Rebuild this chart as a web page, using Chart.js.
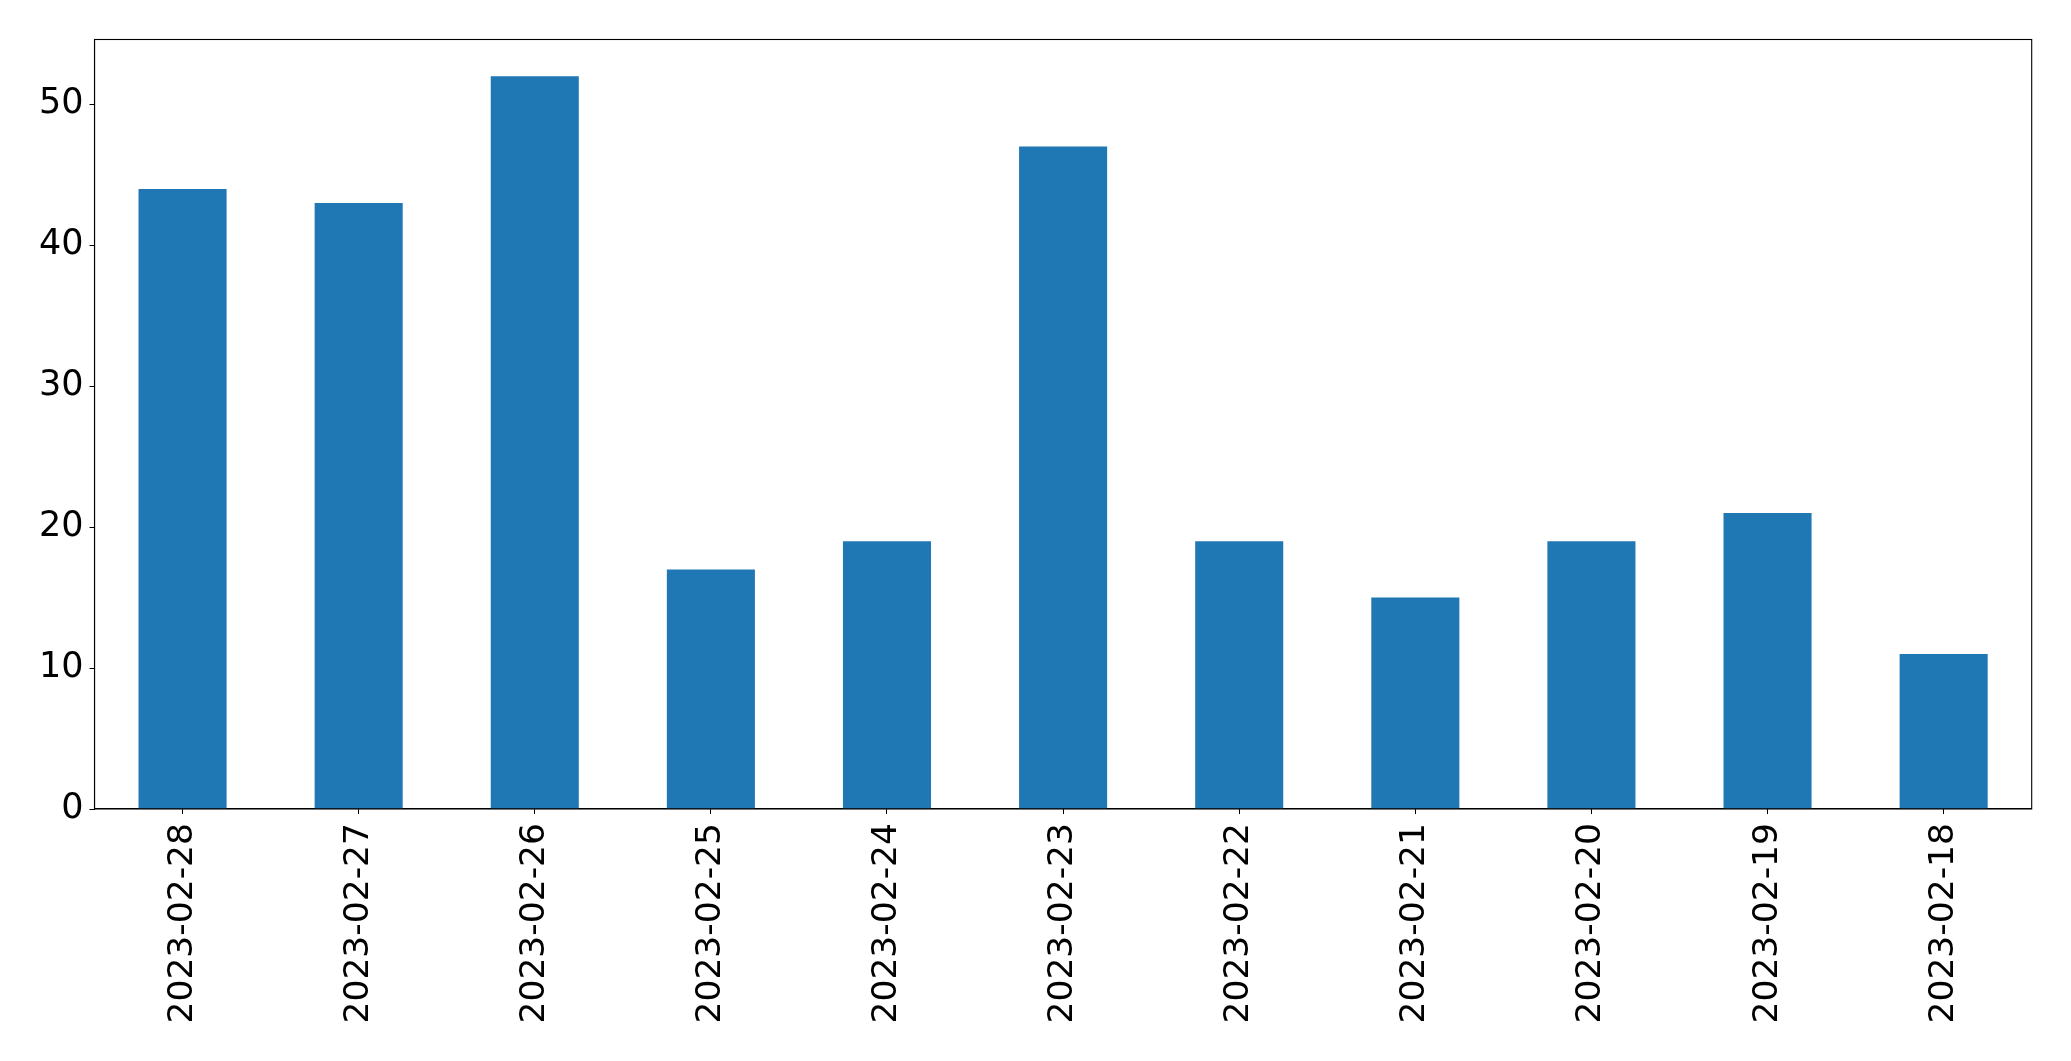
<!DOCTYPE html>
<html>
<head>
<meta charset="utf-8">
<script src="https://cdn.jsdelivr.net/npm/chart.js@4/dist/chart.umd.min.js"></script>
<style>
  html, body { margin: 0; padding: 0; background: #fff; }
  #wrap { width: 2071px; height: 1061px; position: relative; }
</style>
</head>
<body>
<div id="wrap"><canvas id="c" width="2071" height="1061"></canvas></div>
<script>
const categories = ["2023-02-28","2023-02-27","2023-02-26","2023-02-25","2023-02-24","2023-02-23","2023-02-22","2023-02-21","2023-02-20","2023-02-19","2023-02-18"];
const counts = [44, 43, 52, 17, 19, 47, 19, 15, 19, 21, 11];
const yTicks = [0, 10, 20, 30, 40, 50];
const yMax = 54.6;

const frame = {
  id: 'frame',
  afterDraw(chart) {
    const a = chart.chartArea, ctx = chart.ctx;
    ctx.save();
    ctx.strokeStyle = '#000';
    ctx.lineWidth = 1.1;
    ctx.strokeRect(a.left, a.top, a.right - a.left, a.bottom - a.top);
    ctx.restore();
  }
};

new Chart(document.getElementById('c'), {
  type: 'bar',
  data: {
    labels: categories,
    datasets: [{
      data: counts,
      backgroundColor: '#1f77b4',
      borderWidth: 0,
      barPercentage: 0.5,
      categoryPercentage: 1.0
    }]
  },
  options: {
    responsive: false,
    animation: false,
    devicePixelRatio: 1,
    layout: { padding: { left: 0, top: 39.5, right: 39.3, bottom: 0 } },
    plugins: { legend: { display: false }, tooltip: { enabled: false } },
    scales: {
      x: {
        offset: true,
        grid: { display: true, drawOnChartArea: false, drawTicks: true, tickLength: 5, tickColor: '#000', offset: false },
        border: { display: true, color: '#000', width: 1.1 },
        ticks: {
          color: '#000', font: { family: 'DejaVu Sans', size: 34.5 },
          minRotation: 90, maxRotation: 90, autoSkip: false, padding: 9
        },
        afterFit(scale) { scale.height = 1061 - 809; }
      },
      y: {
        min: 0, max: yMax,
        grid: { display: true, drawOnChartArea: false, drawTicks: true, tickLength: 5, tickColor: '#000' },
        border: { display: true, color: '#000', width: 1.1 },
        ticks: { color: '#000', font: { family: 'DejaVu Sans', size: 35 }, stepSize: 10, padding: 6 },
        afterBuildTicks(scale) { scale.ticks = yTicks.map(v => ({ value: v })); },
        afterFit(scale) { scale.width = 94.5; }
      }
    }
  },
  plugins: [frame]
});
</script>
</body>
</html>
